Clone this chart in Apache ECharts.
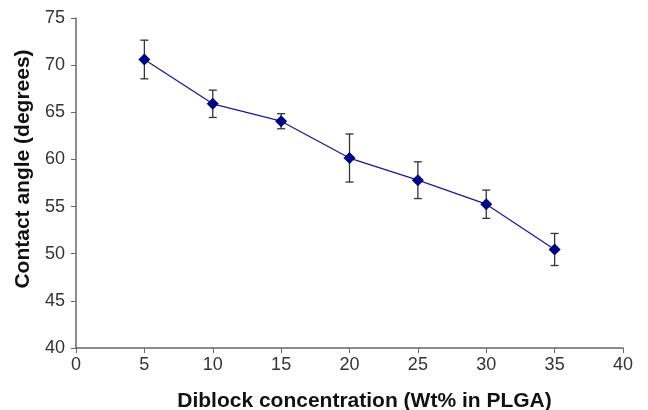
<!DOCTYPE html>
<html><head><meta charset="utf-8">
<script src="https://cdn.jsdelivr.net/npm/echarts@6/dist/echarts.min.js"></script>
<style>html,body{margin:0;padding:0;background:#fff}#c{width:648px;height:410px}</style>
</head><body><div id="c"></div>
<script>
var concentrations = [5, 10, 15, 20, 25, 30, 35];
var contactAngle = [70.6, 65.9, 64.05, 60.15, 57.8, 55.25, 50.45];
var errorAmount = [2.05, 1.45, 0.8, 2.55, 1.95, 1.5, 1.7];
var xTicks = [0, 5, 10, 15, 20, 25, 30, 35, 40];
var yTicks = [40, 45, 50, 55, 60, 65, 70, 75];

var lineData = concentrations.map(function (x, i) { return [x, contactAngle[i]]; });
var errData = concentrations.map(function (x, i) { return [x, contactAngle[i] - errorAmount[i], contactAngle[i] + errorAmount[i]]; });

var chart = echarts.init(document.getElementById('c'), null, {renderer: 'canvas'});
var font = 'Liberation Sans, Arial, sans-serif';
chart.setOption({
  animation: false,
  grid: {left: 76, right: 25, top: 18, bottom: 62, containLabel: false, outerBoundsMode: 'none'},
  xAxis: {
    type: 'value', min: xTicks[0], max: xTicks[xTicks.length - 1], interval: 5,
    name: 'Diblock concentration (Wt% in PLGA)', nameLocation: 'middle', nameGap: 43,
    nameTextStyle: {fontFamily: font, fontSize: 21, fontWeight: 'bold', color: '#111', padding: [0, 0, 0, 30]},
    axisLine: {show: true, lineStyle: {color: '#666', width: 1.5}},
    axisTick: {show: true, inside: false, length: 5, lineStyle: {color: '#666'}},
    axisLabel: {fontFamily: font, fontSize: 18, color: '#333', margin: 8},
    splitLine: {show: false}
  },
  yAxis: {
    type: 'value', min: yTicks[0], max: yTicks[yTicks.length - 1], interval: 5,
    name: 'Contact angle (degrees)', nameLocation: 'middle', nameGap: 39,
    nameTextStyle: {fontFamily: font, fontSize: 21, fontWeight: 'bold', color: '#111', padding: [0, 0, 0, 28]},
    axisLine: {show: true, lineStyle: {color: '#666', width: 1.5}},
    axisTick: {show: true, inside: false, length: 5, lineStyle: {color: '#666'}},
    axisLabel: {fontFamily: font, fontSize: 18, color: '#333', margin: 11},
    splitLine: {show: false}
  },
  series: [
    {
      type: 'custom',
      data: errData,
      z: 1,
      renderItem: function (params, api) {
        var x = api.value(0);
        var lo = api.coord([x, api.value(1)]);
        var hi = api.coord([x, api.value(2)]);
        var hw = 4;
        var st = {stroke: '#333', lineWidth: 1.3};
        return {type: 'group', children: [
          {type: 'line', shape: {x1: lo[0], y1: lo[1], x2: hi[0], y2: hi[1]}, style: st},
          {type: 'line', shape: {x1: lo[0] - hw, y1: lo[1], x2: lo[0] + hw, y2: lo[1]}, style: st},
          {type: 'line', shape: {x1: hi[0] - hw, y1: hi[1], x2: hi[0] + hw, y2: hi[1]}, style: st}
        ]};
      }
    },
    {
      type: 'line',
      data: lineData,
      z: 2,
      symbol: 'diamond',
      symbolSize: 12,
      lineStyle: {color: '#1a1a9a', width: 1.3},
      itemStyle: {color: '#000080', borderWidth: 0}
    }
  ]
});
</script>
</body></html>
